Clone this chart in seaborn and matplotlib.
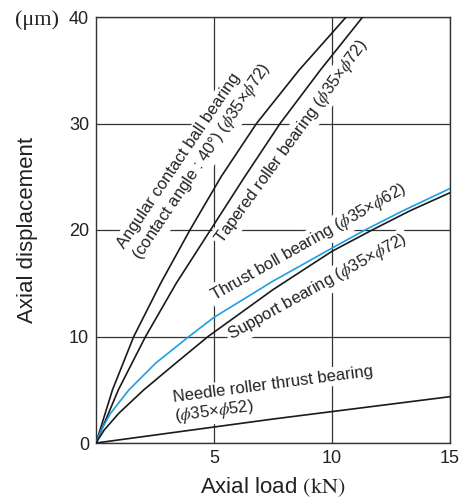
import pandas as pd
import seaborn as sns
import matplotlib.pyplot as plt

# 读图得到的曲线数据：轴向载荷 (kN) / 轴向位移 (um)
angular_x = [0, 0.7, 1.6, 2.74, 3.98, 5.3, 6.8, 8.6, 10.6]
angular_y = [0, 5, 10, 15, 20, 25, 30, 35, 40]
tapered_x = [0, 0.95, 2.1, 3.4, 4.85, 6.3, 7.8, 9.5, 11.3]
tapered_y = [0, 5, 10, 15, 20, 25, 30, 35, 40]
thrust_x = [0, 0.22, 0.62, 1.4, 2.53, 3.94, 5.0, 7.5, 10, 11.4, 13, 15]
thrust_y = [0, 1.2, 2.8, 5.0, 7.5, 10, 11.8, 15.2, 18.3, 20, 21.8, 23.9]
support_x = [0, 0.34, 0.97, 2.03, 3.38, 4.75, 7.5, 10, 11.7, 13.3, 15]
support_y = [0, 1.2, 2.8, 5.0, 7.5, 10, 14.4, 18.0, 20, 21.8, 23.5]
needle_x = [0, 2.5, 5, 7.5, 10, 12.5, 15]
needle_y = [0, 0.75, 1.5, 2.25, 2.95, 3.65, 4.35]

x_ticks = [5, 10, 15]
y_ticks = [0, 10, 20, 30, 40]

curves = {
    'angular': (angular_x, angular_y),
    'tapered': (tapered_x, tapered_y),
    'thrust': (thrust_x, thrust_y),
    'support': (support_x, support_y),
    'needle': (needle_x, needle_y),
}
rows = []
for name, (xs, ys) in curves.items():
    for x, y in zip(xs, ys):
        rows.append({'bearing': name, 'load': x, 'disp': y})
df = pd.DataFrame(rows)

palette = {'angular': '#1a1a1a', 'tapered': '#1a1a1a', 'thrust': '#1e9fe0',
           'support': '#1a1a1a', 'needle': '#1a1a1a'}

sns.set_style('white')
plt.rcParams['font.family'] = ['Liberation Sans', 'DejaVu Sans']
plt.rcParams['mathtext.fontset'] = 'stix'

fig = plt.figure(figsize=(4.63, 5.03), dpi=100)
ax = fig.add_axes([96 / 463, 1 - 443 / 503, 354 / 463, 426 / 503])

sns.lineplot(data=df, x='load', y='disp', hue='bearing', palette=palette,
             estimator=None, linewidth=1.2, legend=False, ax=ax, zorder=4)

ax.set_xlim(0, 15)
ax.set_ylim(0, 40)
ax.set_xticks(x_ticks)
ax.set_yticks(y_ticks)
ax.grid(True, color='#333333', linewidth=0.9)
ax.set_axisbelow(True)
ax.tick_params(length=0, labelsize=13, pad=5, colors='#222222')
for s in ax.spines.values():
    s.set_color('#333333')
    s.set_linewidth(1.0)

ax.set_xlabel('Axial load $\\mathrm{(kN)}$', fontsize=16, color='#222222')
ax.set_ylabel('Axial displacement', fontsize=16, color='#222222')
ax.xaxis.set_label_coords(0.5, -0.075)
ax.yaxis.set_label_coords(-0.165, 0.5)

fig.text(15 / 463, 1 - 20 / 503, '(μm)', family=['Liberation Serif', 'DejaVu Serif'],
         fontsize=16, va='center', ha='left', color='#222222')

# 曲线标注
phi = '$\\phi$'
labels = [
    ('Angular contact ball bearing', 3.5, 26.5, 56),
    ('(contact angle : 40°) (' + phi + '35×' + phi + '72)', 4.5, 26.4, 56),
    ('Tapered roller bearing (' + phi + '35×' + phi + '72)', 8.3, 28.3, 54),
    ('Thrust boll bearing (' + phi + '35×' + phi + '62)', 9.0, 18.8, 29.5),
    ('Support bearing (' + phi + '35×' + phi + '72)', 9.4, 14.6, 29),
    ('Needle roller thrust bearing', 7.5, 5.5, 7.5),
    ('(' + phi + '35×' + phi + '52)', 5.0, 2.9, 7.5),
]
for text, x, y, rot in labels:
    ax.text(x, y, text, rotation=rot, rotation_mode='anchor', ha='center', va='center',
            fontsize=12, color='#222222', zorder=3,
            bbox=dict(facecolor='white', edgecolor='none', pad=1.5))

plt.savefig('out.png', dpi=100)
